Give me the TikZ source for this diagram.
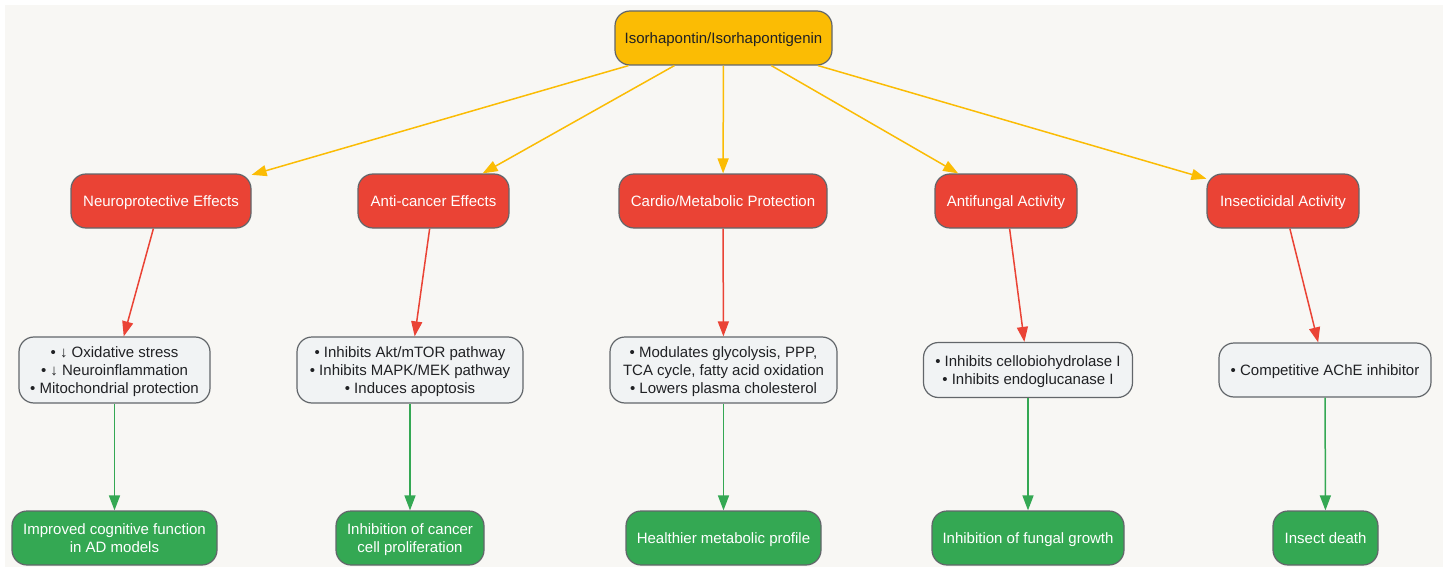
\documentclass[tikz,border=0pt]{standalone}
\usepackage{fontspec}
\setmainfont{Liberation Sans}
\usetikzlibrary{arrows.meta}
\definecolor{bgc}{HTML}{F8F7F4}
\definecolor{yel}{HTML}{FBBC04}
\definecolor{redc}{HTML}{EA4335}
\definecolor{grn}{HTML}{34A853}
\definecolor{lite}{HTML}{F1F3F4}
\definecolor{bord}{HTML}{62666A}
\definecolor{txt}{HTML}{202124}
\newcommand{\firstln}{\rule{0pt}{14.6pt}}
\newcommand{\lastln}{\rule[-4.2pt]{0pt}{4.2pt}}
\tikzset{
  box/.style={draw=bord, line width=1.2pt, rounded corners=15pt, align=center,
    inner sep=0pt, font=\fontsize{15}{18}\selectfont, text=txt,
    execute at begin node={\rule{0pt}{14.6pt}},
    execute at end node={\rule[-4.2pt]{0pt}{4.2pt}}},
  topbox/.style={box, fill=yel, minimum width=217pt, minimum height=54pt},
  catbox/.style={box, fill=redc, text=white, minimum height=54pt},
  detbox/.style={box, fill=lite, text=txt},
  outbox/.style={box, fill=grn, text=white, minimum height=54pt},
  yarrow/.style={draw=yel, line width=1.5pt, -{Triangle[length=15pt,width=11pt]}},
  rarrow/.style={draw=redc, line width=1.5pt, -{Triangle[length=15pt,width=11pt]}},
  garrow/.style={draw=grn, line width=1.5pt, -{Triangle[length=15pt,width=11pt]}},
}
\begin{document}
\begin{tikzpicture}[x=1pt,y=-1pt]
\useasboundingbox (0,0) rectangle (1443,567);
\fill[bgc] (5,5) rectangle (1443,567);

\node[topbox] (top) at (723.5,38) {Isorhapontin/Isorhapontigenin};

\node[catbox, minimum width=180pt] (neuro) at (161,201) {Neuroprotective Effects};
\node[catbox, minimum width=151pt] (canc) at (433.5,201) {Anti-cancer Effects};
\node[catbox, minimum width=208pt] (card) at (723,201) {Cardio/Metabolic Protection};
\node[catbox, minimum width=142pt] (fung) at (1006,201) {Antifungal Activity};
\node[catbox, minimum width=152pt] (insc) at (1283,201) {Insecticidal Activity};

\node[detbox, minimum width=191pt, minimum height=66pt] (dneuro) at (114.5,370)
  {\firstln• ↓ Oxidative stress\\• ↓ Neuroinflammation\\• Mitochondrial protection\lastln};
\node[detbox, minimum width=226pt, minimum height=66pt] (dcanc) at (410,370)
  {\firstln• Inhibits Akt/mTOR pathway\\• Inhibits MAPK/MEK pathway\\• Induces apoptosis\lastln};
\node[detbox, minimum width=227pt, minimum height=66pt] (dcard) at (723.5,370)
  {\firstln• Modulates glycolysis, PPP,\\TCA cycle, fatty acid oxidation\\• Lowers plasma cholesterol\lastln};
\node[detbox, minimum width=209pt, minimum height=55pt] (dfung) at (1028,370)
  {\firstln• Inhibits cellobiohydrolase I\\• Inhibits endoglucanase I\lastln};
\node[detbox, minimum width=212pt, minimum height=54pt] (dinsc) at (1325,370)
  {• Competitive AChE inhibitor};

\node[outbox, minimum width=205pt] (oneuro) at (114.5,538) {\firstln Improved cognitive function\\in AD models\lastln};
\node[outbox, minimum width=148pt] (ocanc) at (410,538) {\firstln Inhibition of cancer\\cell proliferation\lastln};
\node[outbox, minimum width=195pt] (ocard) at (723.5,538) {Healthier metabolic profile};
\node[outbox, minimum width=192pt] (ofung) at (1028,538) {Inhibition of fungal growth};
\node[outbox, minimum width=105pt] (oinsc) at (1325.5,538) {Insect death};

\foreach \n in {neuro,canc,card,fung,insc} {
  \draw[yarrow] (top) -- (\n);
  \draw[rarrow] (\n) -- (d\n);
  \draw[garrow] (d\n) -- (o\n);
}
\end{tikzpicture}
\end{document}
